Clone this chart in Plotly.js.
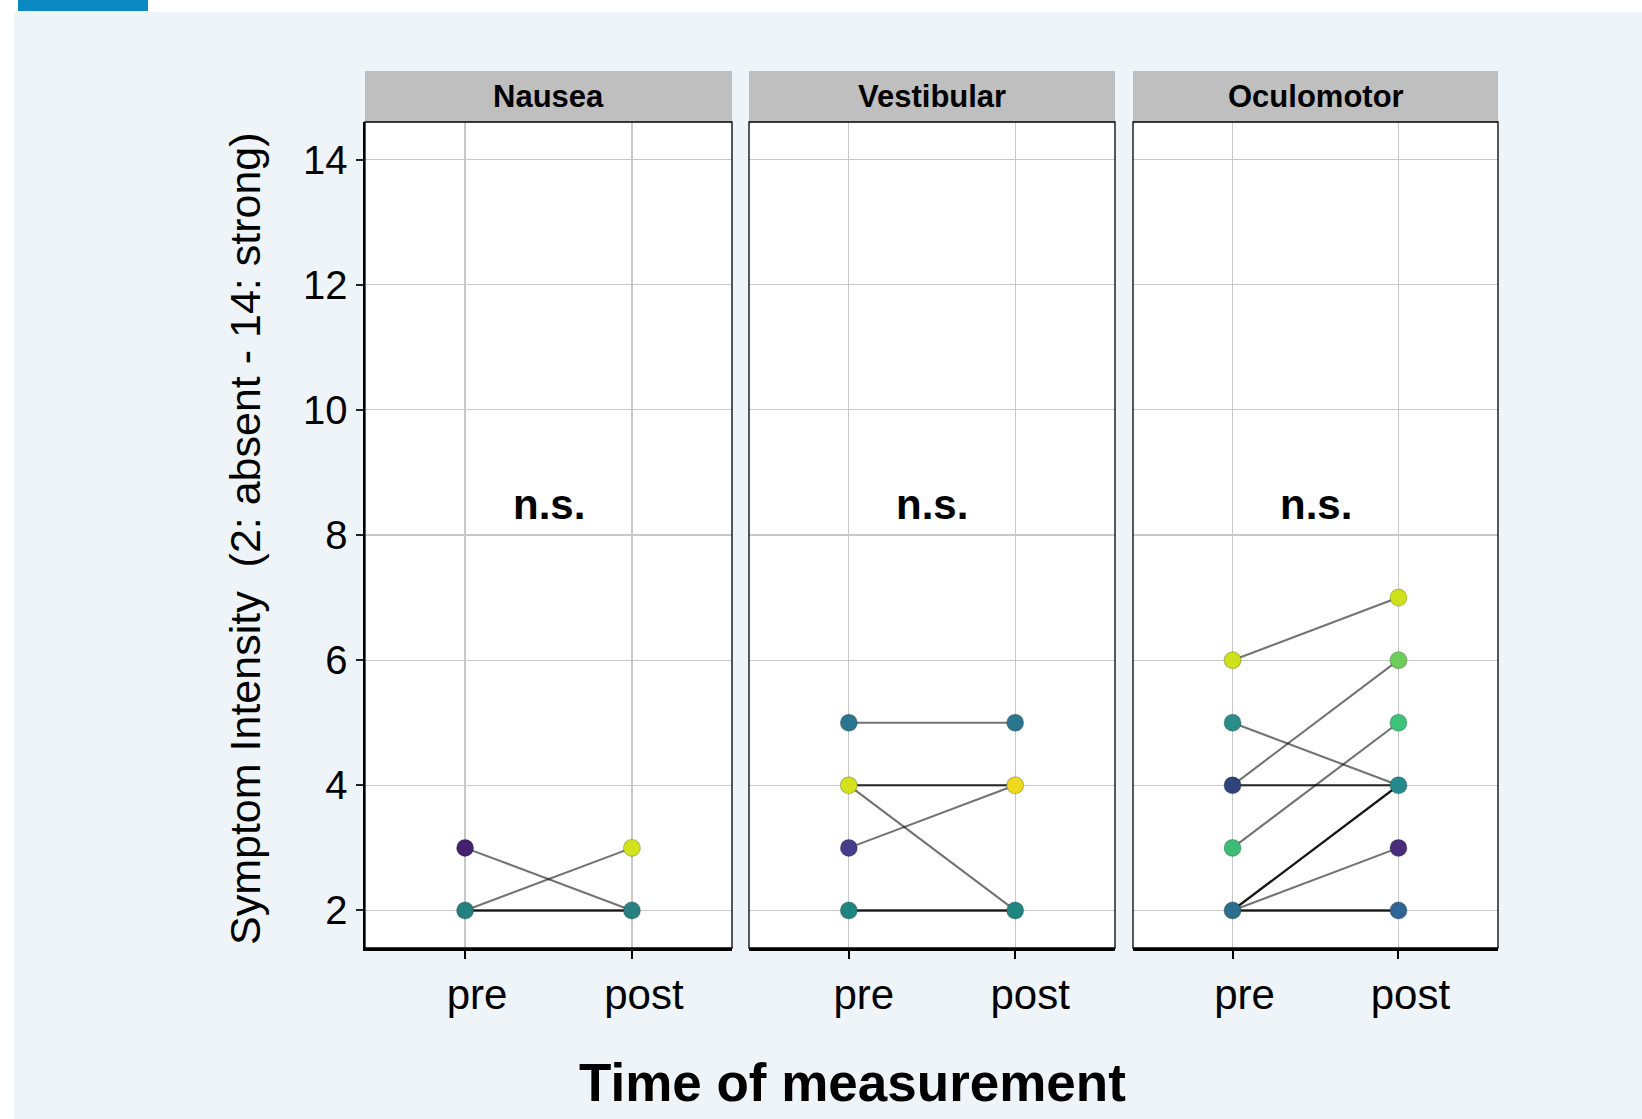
<!DOCTYPE html>
<html>
<head>
<meta charset="utf-8">
<script src="https://cdn.plot.ly/plotly-3.0.1.min.js"></script>
<style>
  html, body { margin: 0; padding: 0; background: #ffffff; }
  #wrap { position: relative; width: 1642px; height: 1119px; overflow: hidden; background: #ffffff; }
  #bgpanel { position: absolute; left: 14px; top: 12px; right: 0; bottom: 0; background: #eff4f9; }
  #bluetab { position: absolute; left: 18px; top: 0; width: 130px; height: 11px; background: #0a89c3; }
  #chart { position: absolute; left: 0; top: 0; width: 1642px; height: 1119px; }
</style>
</head>
<body>
<div id="wrap">
  <div id="bgpanel"></div>
  <div id="bluetab"></div>
  <div id="chart"></div>
</div>
<script>
// ---------------- data ----------------
const categories = ['pre', 'post'];
const panelNames = ['Nausea', 'Vestibular', 'Oculomotor'];
const yTicks = [2, 4, 6, 8, 10, 12, 14];
const sigLabels = ['n.s.', 'n.s.', 'n.s.'];

// one entry per participant (pre value -> post value)
const nauseaPre      = [3, 2, 2, 2, 2];
const nauseaPost     = [2, 3, 2, 2, 2];
const vestibularPre  = [5, 4, 4, 4, 3, 2, 2, 2];
const vestibularPost = [5, 4, 4, 2, 4, 2, 2, 2];
const oculomotorPre  = [6, 5, 4, 4, 4, 3, 2, 2, 2, 2, 2, 2, 2];
const oculomotorPost = [7, 4, 6, 4, 4, 5, 4, 4, 4, 3, 2, 2, 2];

// visible point values and colours
const nauseaPrePts       = [3, 2];
const nauseaPreCols      = ['#46216f', '#25807f'];
const nauseaPostPts      = [3, 2];
const nauseaPostCols     = ['#d2e21b', '#25807f'];
const vestibularPrePts   = [5, 4, 3, 2];
const vestibularPreCols  = ['#2a768e', '#d2e21b', '#453c8c', '#1f8580'];
const vestibularPostPts  = [5, 4, 2];
const vestibularPostCols = ['#2a768e', '#efd91f', '#1f8580'];
const oculomotorPrePts   = [6, 5, 4, 3, 2];
const oculomotorPreCols  = ['#cde11d', '#2a8d8a', '#2e4379', '#3cbc74', '#2b6f8e'];
const oculomotorPostPts  = [7, 6, 5, 4, 3, 2];
const oculomotorPostCols = ['#cde11d', '#6cce59', '#3cc37a', '#238a8d', '#472d7b', '#2e6496'];

const panelPre   = [nauseaPre, vestibularPre, oculomotorPre];
const panelPost  = [nauseaPost, vestibularPost, oculomotorPost];
const panelPts   = [
  [[nauseaPrePts, nauseaPreCols], [nauseaPostPts, nauseaPostCols]],
  [[vestibularPrePts, vestibularPreCols], [vestibularPostPts, vestibularPostCols]],
  [[oculomotorPrePts, oculomotorPreCols], [oculomotorPostPts, oculomotorPostCols]]
];

// ---------------- layout helpers ----------------
const W = 1642, H = 1119;
const px = v => v / W;
const py = v => 1 - v / H;
const FONT = 'Liberation Sans, Arial, Helvetica, sans-serif';
const xDomains = [[px(365), px(732)], [px(749), px(1115)], [px(1133), px(1498)]];
const labelShifts = [12, 15, 12];
const yDomain = [py(948), py(122)];
const stripTop = py(71), stripBot = py(122);

const traces = [];
const layout = {
  width: W, height: H,
  margin: {l: 0, r: 0, t: 0, b: 0},
  paper_bgcolor: 'rgba(0,0,0,0)',
  plot_bgcolor: '#ffffff',
  showlegend: false,
  font: {family: FONT, color: '#000000'},
  shapes: [],
  annotations: []
};

for (let i = 0; i < 3; i++) {
  const sfx = i === 0 ? '' : String(i + 1);
  const xa = 'x' + sfx, ya = 'y' + sfx;

  // participant lines
  for (let j = 0; j < panelPre[i].length; j++) {
    traces.push({
      type: 'scatter', mode: 'lines',
      x: categories, y: [panelPre[i][j], panelPost[i][j]],
      xaxis: xa, yaxis: ya,
      line: {color: 'rgba(0,0,0,0.55)', width: 2.1},
      hoverinfo: 'skip'
    });
  }
  // points
  panelPts[i].forEach((pc, t) => {
    traces.push({
      type: 'scatter', mode: 'markers',
      x: pc[0].map(() => categories[t]), y: pc[0],
      xaxis: xa, yaxis: ya,
      marker: {size: 17, color: pc[1], line: {color: 'rgba(0,0,0,0.2)', width: 1.2}},
      hoverinfo: 'x+y'
    });
  });

  layout['xaxis' + sfx] = {
    domain: xDomains[i], anchor: ya,
    type: 'category', categoryorder: 'array', categoryarray: categories,
    range: [-0.6, 1.6],
    showgrid: true, gridcolor: '#c8c8c8', gridwidth: 1.2,
    showline: true, linecolor: '#000000', linewidth: 2.5,
    ticks: 'outside', ticklen: 8, tickwidth: 2, tickcolor: '#000000',
    tickfont: {family: FONT, size: 42, color: '#000000'},
    ticklabelshift: labelShifts[i], ticklabelstandoff: 0,
    zeroline: false, fixedrange: true
  };
  layout['yaxis' + sfx] = {
    domain: yDomain, anchor: xa,
    range: [1.4, 14.6],
    tickvals: yTicks,
    showgrid: true, gridcolor: '#c8c8c8', gridwidth: 1.2,
    zeroline: false, fixedrange: true,
    showline: i === 0, linecolor: '#000000', linewidth: 2.5,
    ticks: i === 0 ? 'outside' : '', ticklen: 7, tickwidth: 2, tickcolor: '#222222',
    showticklabels: i === 0,
    tickfont: {family: FONT, size: 40, color: '#000000'},
    ticklabelstandoff: 0
  };
  if (i > 0) layout['yaxis' + sfx].matches = 'y';

  // strip
  layout.shapes.push({
    type: 'rect', xref: 'paper', yref: 'paper',
    x0: xDomains[i][0], x1: xDomains[i][1], y0: stripBot, y1: stripTop,
    fillcolor: '#bfbfbf', line: {width: 0}
  });
  // panel border
  layout.shapes.push({
    type: 'rect', xref: xa + ' domain', yref: ya + ' domain',
    x0: 0, x1: 1, y0: 0, y1: 1,
    line: {color: '#000000', width: 1.3}, layer: 'above'
  });
  layout.annotations.push({
    xref: 'paper', yref: 'paper',
    x: (xDomains[i][0] + xDomains[i][1]) / 2, y: (stripTop + stripBot) / 2,
    xanchor: 'center', yanchor: 'middle', showarrow: false,
    text: '<b>' + panelNames[i] + '</b>',
    font: {family: FONT, size: 31, color: '#000000'}
  });
  layout.annotations.push({
    xref: xa, yref: ya, x: 0.5, y: 8.5,
    xanchor: 'center', yanchor: 'middle', showarrow: false, yshift: -1,
    text: '<b>' + sigLabels[i] + '</b>',
    font: {family: FONT, size: 42, color: '#000000'}
  });
}

layout.annotations.push({
  xref: 'paper', yref: 'paper', x: px(245), y: py(539),
  xanchor: 'center', yanchor: 'middle', showarrow: false, textangle: -90,
  text: 'Symptom Intensity \u00a0(2: absent - 14: strong)',
  font: {family: FONT, size: 43, color: '#000000'}
});
layout.annotations.push({
  xref: 'paper', yref: 'paper', x: px(852), y: py(1082),
  xanchor: 'center', yanchor: 'middle', showarrow: false,
  text: '<b>Time of measurement</b>',
  font: {family: FONT, size: 53, color: '#000000'}
});

Plotly.newPlot('chart', traces, layout, {displayModeBar: false, staticPlot: true});
</script>
</body>
</html>
